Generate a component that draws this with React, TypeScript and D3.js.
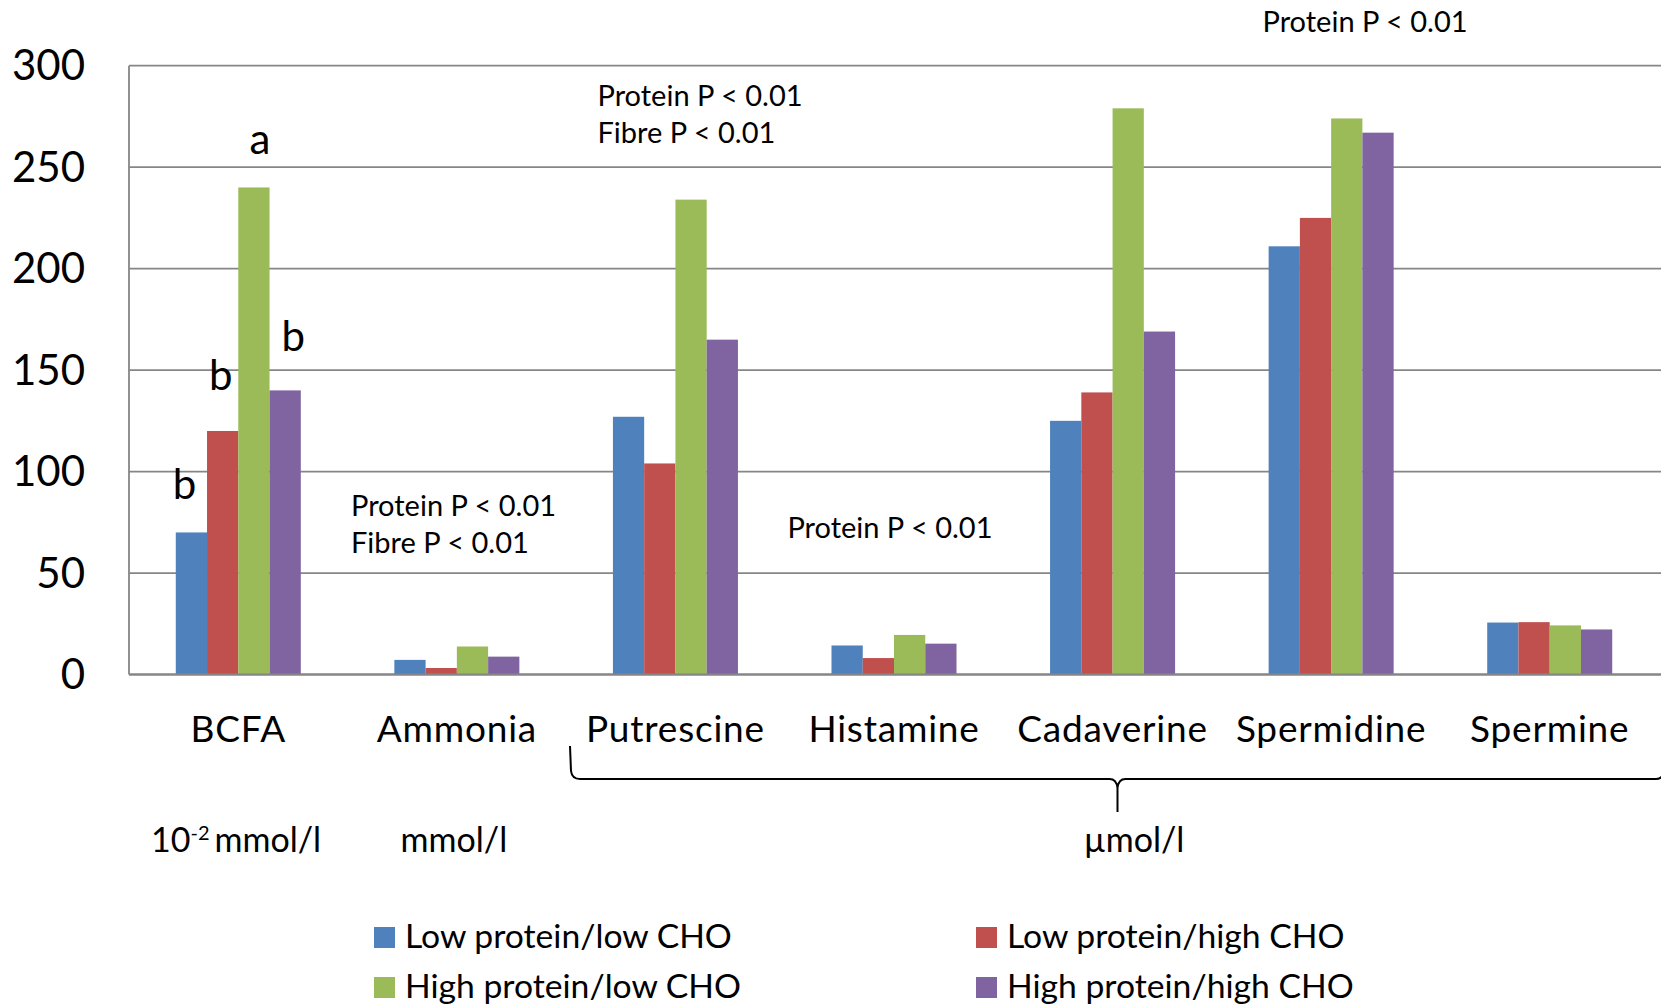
import React from "react";
import * as d3 from "d3";

const categories = ["BCFA", "Ammonia", "Putrescine", "Histamine", "Cadaverine", "Spermidine", "Spermine"];
const seriesNames = ["Low protein/low CHO", "Low protein/high CHO", "High protein/low CHO", "High protein/high CHO"];
const lowProteinLowCHO = [70, 7.2, 127, 14.3, 125, 211, 25.6];
const lowProteinHighCHO = [120, 3.2, 104, 8.1, 139, 225, 25.8];
const highProteinLowCHO = [240, 13.8, 234, 19.5, 279, 274, 24.2];
const highProteinHighCHO = [140, 8.8, 165, 15.2, 169, 267, 22.2];
const seriesColors = ["#4F81BD", "#C0504D", "#9BBB59", "#8064A2"];
const yTicks = [0, 50, 100, 150, 200, 250, 300];
const units = ["10", "mmol/l", "µmol/l"];

const W = 1661;
const H = 1004;
const FONT = "Lato, 'Open Sans', sans-serif";

export default function App() {
  const series = [lowProteinLowCHO, lowProteinHighCHO, highProteinLowCHO, highProteinHighCHO];
  const x0 = d3.scaleBand<string>().domain(categories).range([129, 1659]).paddingInner(0).paddingOuter(0);
  const groupW = x0.bandwidth() * 0.572;
  const x1 = d3.scaleBand<number>().domain([0, 1, 2, 3]).range([0, groupW]).padding(0);
  const y = d3.scaleLinear().domain([0, 300]).range([674.5, 65.7]);
  const gx = (c: string) => (x0(c) as number) + (x0.bandwidth() - groupW) / 2;
  const barCx = (ci: number, si: number) => gx(categories[ci]) + (x1(si) as number) + x1.bandwidth() / 2;
  const cx = (ci: number) => (x0(categories[ci]) as number) + x0.bandwidth() / 2;

  const letters = [
    { t: "b", si: 0, dx: -7, dy: -33 },
    { t: "b", si: 1, dx: -2, dy: -41 },
    { t: "a", si: 2, dx: 6, dy: -33 },
    { t: "b", si: 3, dx: 8, dy: -39 },
  ];

  const braceY = 779;
  const braceMid = 1117.5;
  const bracePath = `M570,746 L571,771 Q572,${braceY} 580,${braceY} L${braceMid - 8},${braceY} Q${braceMid - 1},${braceY} ${braceMid},${braceY + 9} L${braceMid},812 M${braceMid},${braceY + 9} Q${braceMid + 1},${braceY} ${braceMid + 8},${braceY} L1656,${braceY} Q1663,${braceY} 1664,771 L1665,746`;

  const annoSize = 29;
  const annotations = [
    { x: 351, y: 515.6, lines: ["Protein P < 0.01", "Fibre P < 0.01"] },
    { x: 597.5, y: 105.6, lines: ["Protein P < 0.01", "Fibre P < 0.01"] },
    { x: 787.4, y: 538, lines: ["Protein P < 0.01"] },
    { x: 1262.5, y: 32, lines: ["Protein P < 0.01"] },
  ];

  const legendItems = [
    { x: 374, y: 927 },
    { x: 976, y: 927 },
    { x: 374, y: 977 },
    { x: 976, y: 977 },
  ];
  const legendOrder = [0, 1, 2, 3];

  return (
    <svg width={W} height={H} style={{ position: "absolute", left: 0, top: 0, background: "#fff" }} fontFamily={FONT}>
      <rect x={0} y={0} width={W} height={H} fill="#fff" />
      {yTicks.map((t) => (
        <line key={t} x1={129} x2={1661} y1={y(t)} y2={y(t)} stroke="#868686" strokeWidth={1.8} />
      ))}
      <line x1={129} x2={129} y1={y(300)} y2={y(0)} stroke="#868686" strokeWidth={1.8} />
      {yTicks.map((t) => (
        <text key={t} x={85} y={y(t) + 14.5} textAnchor="end" fontSize={42} fill="#000">
          {t}
        </text>
      ))}
      {series.map((vals, si) =>
        vals.map((v, ci) => (
          <rect
            key={`${si}-${ci}`}
            x={gx(categories[ci]) + (x1(si) as number)}
            y={y(v)}
            width={x1.bandwidth()}
            height={y(0) - y(v)}
            fill={seriesColors[si]}
          />
        ))
      )}
      <line x1={129} x2={1661} y1={y(0)} y2={y(0)} stroke="#868686" strokeWidth={1.8} />
      {letters.map((l, i) => (
        <text key={i} x={barCx(0, l.si) + l.dx} y={y(series[l.si][0]) + l.dy} textAnchor="middle" fontSize={42} fill="#000">
          {l.t}
        </text>
      ))}
      {categories.map((c, ci) => (
        <text key={c} x={cx(ci)} y={742} textAnchor="middle" fontSize={37} letterSpacing={0.8} fill="#000">
          {c}
        </text>
      ))}
      <path d={bracePath} fill="none" stroke="#000" strokeWidth={2} />
      <text x={151} y={851.7} fontSize={34} fill="#000">
        {units[0]}
        <tspan dy={-12} fontSize={20}>-2</tspan>
        <tspan dy={12} dx={5}>mmol/l</tspan>
      </text>
      <text x={cx(1) - 3} y={851.7} textAnchor="middle" fontSize={34} fill="#000">
        {units[1]}
      </text>
      <text x={1134} y={851.7} textAnchor="middle" fontSize={34} fill="#000">
        {units[2]}
      </text>
      {annotations.map((a, i) => (
        <text key={i} x={a.x} y={a.y} fontSize={annoSize} fill="#000">
          {a.lines.map((ln, j) => (
            <tspan key={j} x={a.x} dy={j === 0 ? 0 : 37.5}>
              {ln}
            </tspan>
          ))}
        </text>
      ))}
      {legendOrder.map((si, i) => (
        <g key={si}>
          <rect x={legendItems[i].x} y={legendItems[i].y} width={21} height={21} fill={seriesColors[si]} />
          <text x={legendItems[i].x + 31} y={legendItems[i].y + 21} fontSize={33.7} fill="#000">
            {seriesNames[si]}
          </text>
        </g>
      ))}
    </svg>
  );
}
